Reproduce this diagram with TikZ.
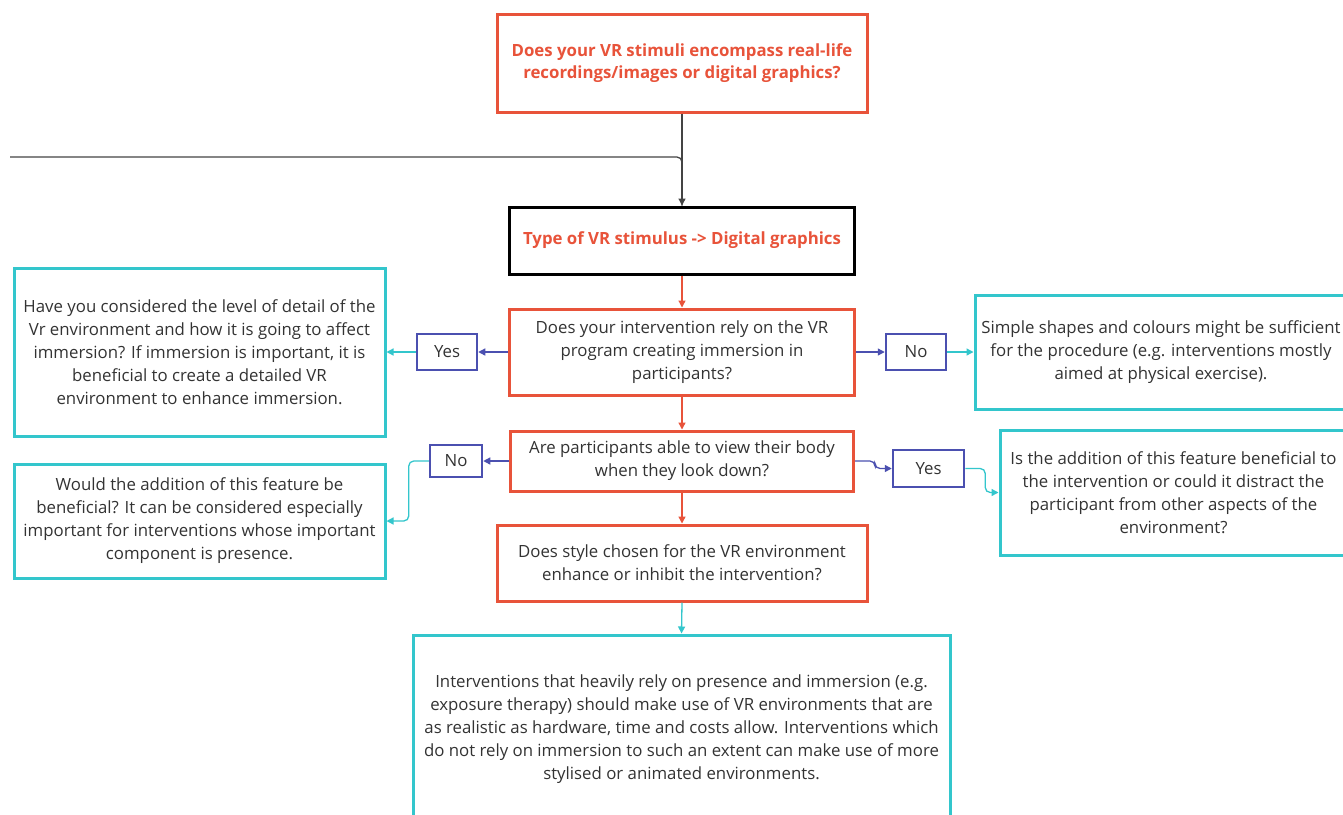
\documentclass[tikz,border=0pt]{standalone}
\usepackage{fontspec}
\setmainfont{Open Sans}
\usetikzlibrary{arrows.meta}
\definecolor{vrorange}{HTML}{E8533A}
\definecolor{vrcyan}{HTML}{33C6CC}
\definecolor{vrblue}{HTML}{4B50B0}
\definecolor{vrtext}{HTML}{333333}
\definecolor{vrgray}{HTML}{444444}
\begin{document}
\begin{tikzpicture}[x=1pt,y=-1pt,
  base/.style={draw, line width=3pt, align=center, inner sep=4pt, text=vrtext,
    font=\fontsize{16.8}{23}\selectfont},
  qbox/.style={base, draw=vrorange},
  abox/.style={base, draw=vrcyan},
  tbox/.style={base, draw=vrorange, text=vrorange, font=\fontsize{16.8}{22}\selectfont\bfseries},
  kbox/.style={base, draw=black, text=vrorange, font=\fontsize{16.8}{22}\selectfont\bfseries},
  ynbox/.style={base, draw=vrblue, line width=2.5pt, inner sep=2pt},
  oarr/.style={draw=vrorange, line width=1.3pt, -{Triangle[length=7pt,width=7pt]}},
  barr/.style={draw=vrblue, line width=1.3pt, -{Triangle[length=7pt,width=7pt]}, rounded corners=5pt},
  carr/.style={draw=vrcyan, line width=1.3pt, -{Triangle[length=7pt,width=7pt]}, rounded corners=5pt},
  karr/.style={draw=vrgray, line width=1.3pt, rounded corners=5pt}
]
\useasboundingbox[fill=white] (0,0) rectangle (1343,814);

\node[tbox, minimum width=370, minimum height=98] (top) at (682,63)
  {Does your VR stimuli encompass real-life\\recordings/images or digital graphics?};
\node[kbox, minimum width=345, minimum height=67] (type) at (682,240.5)
  {Type of VR stimulus -> Digital graphics};
\node[qbox, minimum width=345, minimum height=86] (q1) at (682,352)
  {Does your intervention rely on the VR\\program creating immersion in\\participants?};
\node[ynbox, minimum width=60, minimum height=36] (yesL) at (447,352) {Yes};
\node[abox, minimum width=371, minimum height=168] (lb1) at (199.5,352)
  {Have you considered the level of detail of the\\Vr environment and how it is going to affect\\immersion? If immersion is important, it is\\beneficial to create a detailed VR\\environment to enhance immersion.};
\node[ynbox, minimum width=60, minimum height=36] (noR) at (916,352) {No};
\node[abox, minimum width=372, minimum height=114] (rb1) at (1161,352)
  {Simple shapes and colours might be sufficient\\for the procedure (e.g. interventions mostly\\aimed at physical exercise).};
\node[qbox, minimum width=343, minimum height=60] (q2) at (682,461)
  {Are participants able to view their body\\when they look down?};
\node[ynbox, minimum width=52, minimum height=32] (noL) at (456,461) {No};
\node[abox, minimum width=371, minimum height=114] (lb2) at (199.5,521)
  {Would the addition of this feature be\\beneficial? It can be considered especially\\important for interventions whose important\\component is presence.};
\node[ynbox, minimum width=71, minimum height=37] (yesR) at (928.5,468.5) {Yes};
\node[abox, minimum width=347, minimum height=125] (rb2) at (1173.5,492.5)
  {Is the addition of this feature beneficial to\\the intervention or could it distract the\\participant from other aspects of the\\environment?};
\node[qbox, minimum width=370, minimum height=76] (q3) at (682,563)
  {Does style chosen for the VR environment\\enhance or inhibit the intervention?};
\node[abox, minimum width=537, minimum height=188] (big) at (681.5,729)
  {Interventions that heavily rely on presence and immersion (e.g.\\exposure therapy) should make use of VR environments that are\\as realistic as hardware, time and costs allow. Interventions which\\do not rely on immersion to such an extent can make use of more\\stylised or animated environments.};

\coordinate (lft) at (10,157);
\draw[karr] (lft) -| (type.north);
\draw[draw=vrgray, line width=1.3pt, -{Triangle[length=7pt,width=7pt]}] (top.south) -- (type.north);

\draw[oarr] (type.south) -- (q1.north);
\draw[oarr] (q1.south) -- (q2.north);
\draw[oarr] (q2.south) -- (q3.north);
\draw[carr] (q3.south) -- (big.north);

\draw[barr] (q1.west) -- (yesL.east);
\draw[carr] (yesL.west) -- (lb1.east);
\draw[barr] (q1.east) -- (noR.west);
\draw[carr] (noR.east) -- (rb1.west);

\draw[barr] (q2.west) -- (noL.east);
\draw[carr] (noL.west) -- ++(-20,0) |- (lb2.east);
\draw[barr] (q2.east) -- ++(20,0) |- (yesR.west);
\draw[carr] (yesR.east) -- ++(20,0) |- (rb2.west);
\end{tikzpicture}
\end{document}
